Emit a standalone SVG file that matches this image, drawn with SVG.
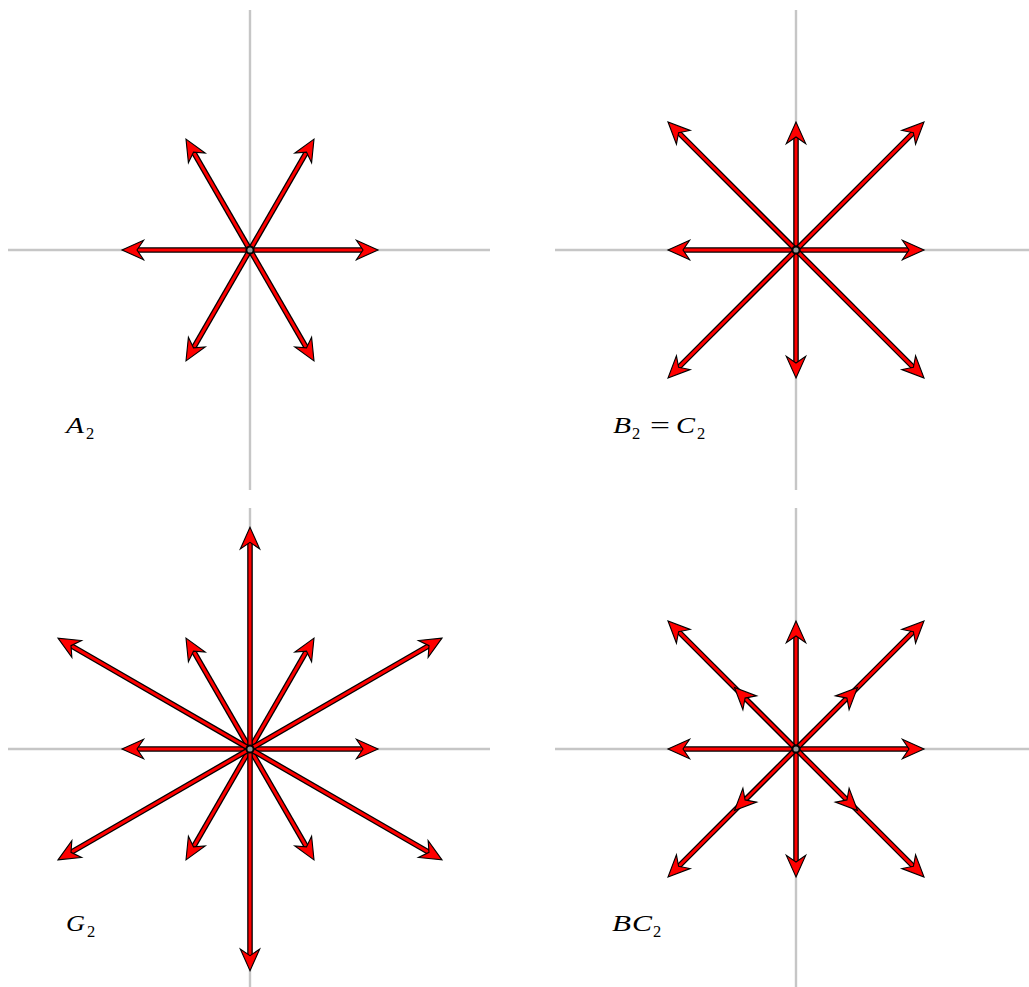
<svg xmlns="http://www.w3.org/2000/svg" xmlns:xlink="http://www.w3.org/1999/xlink" width="1029" height="987" viewBox="0 0 1029 987">
<style>
.axis{stroke:#c6c6c6;stroke-width:2.4;fill:none}
.ob{stroke:#000;stroke-width:5.6;fill:none}
.ir{stroke:#f00;stroke-width:3;fill:none}
.hd{fill:#f00;stroke:#000;stroke-width:1.1;stroke-linejoin:miter}
.dot{fill:#999;stroke:#000;stroke-width:2}
.lbl{font-family:"Liberation Serif","DejaVu Serif",serif;font-style:italic;font-size:23px;fill:#000}
.sub{font-family:"Liberation Serif","DejaVu Serif",serif;font-size:16.5px;fill:#000}
.up{font-family:"Liberation Serif","DejaVu Serif",serif;font-size:23px;fill:#000}
</style>
<defs>
<polygon id="head" class="hd" points="0,0 -21.6,-9.7 -15,0 -21.6,9.7"/>
<g id="a128"><path class="ob" d="M0,0H113"/><path class="ir" d="M0,0H114"/><use xlink:href="#head" transform="translate(128,0)"/></g>
<g id="a181"><path class="ob" d="M0,0H166"/><path class="ir" d="M0,0H167"/><use xlink:href="#head" transform="translate(181,0)"/></g>
<g id="a222"><path class="ob" d="M0,0H206.7"/><path class="ir" d="M0,0H207.7"/><use xlink:href="#head" transform="translate(221.7,0)"/></g>
<g id="a181m"><path class="ob" d="M0,0H166"/><path class="ir" d="M0,0H167"/><use xlink:href="#head" transform="translate(87,0)"/><use xlink:href="#head" transform="translate(181,0)"/></g>
</defs>

<g id="A2">
<path class="axis" d="M8,250H490M250,10V490"/>
<g id="A2-connectors">
<use xlink:href="#a128" transform="translate(250,250) rotate(0)"/>
<use xlink:href="#a128" transform="translate(250,250) rotate(-60)"/>
<use xlink:href="#a128" transform="translate(250,250) rotate(-120)"/>
<use xlink:href="#a128" transform="translate(250,250) rotate(180)"/>
<use xlink:href="#a128" transform="translate(250,250) rotate(120)"/>
<use xlink:href="#a128" transform="translate(250,250) rotate(60)"/>
</g>
<circle class="dot" cx="250" cy="250" r="3.6"/>
<g id="A2-label">
<text class="lbl" x="66" y="433" textLength="18" lengthAdjust="spacingAndGlyphs">A</text>
<text class="sub" x="86" y="439">2</text>
</g>
</g>

<g id="B2">
<path class="axis" d="M555,250H1029M796,10V490"/>
<g id="B2-connectors">
<use xlink:href="#a128" transform="translate(796,250) rotate(0)"/>
<use xlink:href="#a128" transform="translate(796,250) rotate(-90)"/>
<use xlink:href="#a128" transform="translate(796,250) rotate(180)"/>
<use xlink:href="#a128" transform="translate(796,250) rotate(90)"/>
<use xlink:href="#a181" transform="translate(796,250) rotate(-45)"/>
<use xlink:href="#a181" transform="translate(796,250) rotate(-135)"/>
<use xlink:href="#a181" transform="translate(796,250) rotate(135)"/>
<use xlink:href="#a181" transform="translate(796,250) rotate(45)"/>
</g>
<circle class="dot" cx="796" cy="250" r="3.6"/>
<g id="B2-label">
<text class="lbl" x="613" y="433" textLength="18" lengthAdjust="spacingAndGlyphs">B</text>
<text class="sub" x="632" y="439">2</text>
<text class="up" x="650" y="433" textLength="20" lengthAdjust="spacingAndGlyphs">=</text>
<text class="lbl" x="676" y="433" textLength="19" lengthAdjust="spacingAndGlyphs">C</text>
<text class="sub" x="697" y="439">2</text>
</g>
</g>

<g id="G2">
<path class="axis" d="M8,749H490M250,508V987"/>
<g id="G2-connectors">
<use xlink:href="#a128" transform="translate(250,749) rotate(0)"/>
<use xlink:href="#a128" transform="translate(250,749) rotate(-60)"/>
<use xlink:href="#a128" transform="translate(250,749) rotate(-120)"/>
<use xlink:href="#a128" transform="translate(250,749) rotate(180)"/>
<use xlink:href="#a128" transform="translate(250,749) rotate(120)"/>
<use xlink:href="#a128" transform="translate(250,749) rotate(60)"/>
<use xlink:href="#a222" transform="translate(250,749) rotate(-30)"/>
<use xlink:href="#a222" transform="translate(250,749) rotate(-90)"/>
<use xlink:href="#a222" transform="translate(250,749) rotate(-150)"/>
<use xlink:href="#a222" transform="translate(250,749) rotate(150)"/>
<use xlink:href="#a222" transform="translate(250,749) rotate(90)"/>
<use xlink:href="#a222" transform="translate(250,749) rotate(30)"/>
</g>
<circle class="dot" cx="250" cy="749" r="3.6"/>
<g id="G2-label">
<text class="lbl" x="66" y="931" textLength="19" lengthAdjust="spacingAndGlyphs">G</text>
<text class="sub" x="87" y="937">2</text>
</g>
</g>

<g id="BC2">
<path class="axis" d="M555,749H1029M796,508V987"/>
<g id="BC2-connectors">
<use xlink:href="#a128" transform="translate(796,749) rotate(0)"/>
<use xlink:href="#a128" transform="translate(796,749) rotate(-90)"/>
<use xlink:href="#a128" transform="translate(796,749) rotate(180)"/>
<use xlink:href="#a128" transform="translate(796,749) rotate(90)"/>
<use xlink:href="#a181m" transform="translate(796,749) rotate(-45)"/>
<use xlink:href="#a181m" transform="translate(796,749) rotate(-135)"/>
<use xlink:href="#a181m" transform="translate(796,749) rotate(135)"/>
<use xlink:href="#a181m" transform="translate(796,749) rotate(45)"/>
</g>
<circle class="dot" cx="796" cy="749" r="3.6"/>
<g id="BC2-label">
<text class="lbl" x="612" y="931" textLength="19" lengthAdjust="spacingAndGlyphs">B</text>
<text class="lbl" x="632" y="931" textLength="20" lengthAdjust="spacingAndGlyphs">C</text>
<text class="sub" x="653" y="937">2</text>
</g>
</g>
</svg>
